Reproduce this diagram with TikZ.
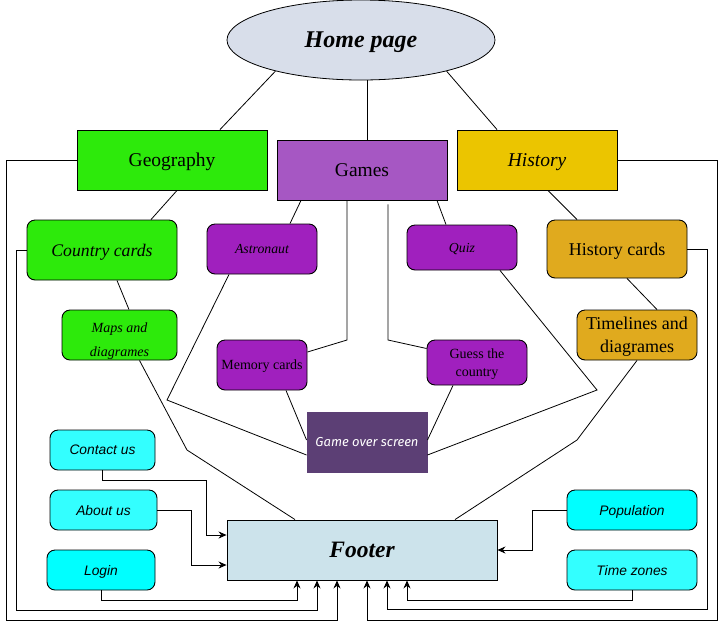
\documentclass[tikz,border=0pt]{standalone}
\usepackage{fontspec}
\setmainfont{Liberation Serif}
\setsansfont{Liberation Sans}
\newfontfamily\goverfont{Fira Sans}
\usetikzlibrary{arrows.meta,shapes.geometric}
\definecolor{homec}{HTML}{D8DEEA}
\definecolor{greenc}{HTML}{2DEA0B}
\definecolor{gamesc}{HTML}{A657C3}
\definecolor{histc}{HTML}{EBC500}
\definecolor{purpc}{HTML}{A020BE}
\definecolor{goldc}{HTML}{E0AA1E}
\definecolor{goverc}{HTML}{5C3F75}
\definecolor{cyanl}{HTML}{33FFFF}
\definecolor{cyanf}{HTML}{00FFFF}
\definecolor{footc}{HTML}{CCE3EB}
\begin{document}
\begin{tikzpicture}[x=1pt,y=-1pt,
  box/.style={draw=black,line width=0.9pt,inner sep=2pt,align=center},
  rbox/.style={box,rounded corners=8pt},
  link/.style={draw=black,line width=0.8pt},
  arr/.style={link,-{Stealth[length=8pt,width=7pt]}}
]
\useasboundingbox (0,0) rectangle (727,630);

% nodes
\node[draw=black,line width=0.8pt,ellipse,fill=homec,minimum width=268pt,minimum height=80pt,inner sep=0pt,text depth=0pt,
      font=\fontsize{24}{28}\selectfont\bfseries\itshape] (home) at (361,40) {Home page};
\node[box,fill=greenc,minimum width=190pt,minimum height=60pt,text depth=0pt,font=\fontsize{19.5}{22}\selectfont] (geo) at (172,160) {Geography};
\node[box,fill=gamesc,minimum width=170pt,minimum height=60pt,text depth=0pt,font=\fontsize{19.5}{22}\selectfont] (games) at (362,170) {Games};
\node[box,fill=histc,minimum width=160pt,minimum height=60pt,text depth=0pt,font=\fontsize{19.5}{22}\selectfont\itshape] (hist) at (537,160) {History};

\node[rbox,fill=greenc,minimum width=150pt,minimum height=60pt,text depth=0pt,font=\fontsize{17.7}{20}\selectfont\itshape] (ccards) at (102,250) {Country cards};
\node[rbox,fill=purpc,minimum width=110pt,minimum height=50pt,text depth=0pt,font=\fontsize{13.8}{16}\selectfont\itshape] (astro) at (262,249) {Astronaut};
\node[rbox,fill=purpc,minimum width=110pt,minimum height=45pt,text depth=0pt,font=\fontsize{13.8}{16}\selectfont\itshape] (quiz) at (462,247.5) {Quiz};
\node[rbox,fill=goldc,minimum width=140pt,minimum height=58pt,text depth=0pt,font=\fontsize{18}{20}\selectfont] (hcards) at (617,249) {History cards};

\node[rbox,fill=greenc,minimum width=115pt,minimum height=50pt,text depth=0pt,font=\fontsize{14}{24}\selectfont\itshape] (maps) at (119.5,335) {\rule{0pt}{0pt}\\[-6pt]Maps and\\diagrames};
\node[rbox,fill=purpc,minimum width=90pt,minimum height=50pt,inner sep=1pt,text depth=0pt,font=\fontsize{14}{17}\selectfont] (memory) at (262,365) {Memory cards};
\node[rbox,fill=purpc,minimum width=100pt,minimum height=45pt,text depth=0pt,font=\fontsize{14}{18}\selectfont] (guess) at (477,362.5) {Guess the\\country};
\node[rbox,fill=goldc,minimum width=120pt,minimum height=50pt,text depth=0pt,font=\fontsize{18}{23}\selectfont] (timelines) at (637,335) {Timelines and\\diagrames};

\node[box,draw=goverc,fill=goverc,text=white,minimum width=120pt,minimum height=60pt,text depth=0pt,font=\goverfont\fontsize{13}{16}\selectfont\itshape] (gameover) at (367,442) {Game over screen};

\node[rbox,fill=cyanl,minimum width=105pt,minimum height=40pt,text depth=0pt,font=\sffamily\fontsize{13.8}{16}\selectfont\itshape] (contact) at (102.5,450) {Contact us};
\node[rbox,fill=cyanl,minimum width=107pt,minimum height=40pt,text depth=0pt,font=\sffamily\fontsize{13.8}{16}\selectfont\itshape] (about) at (103.5,510) {About us};
\node[rbox,fill=cyanf,minimum width=108pt,minimum height=40pt,text depth=0pt,font=\sffamily\fontsize{13.8}{16}\selectfont\itshape] (login) at (101,570) {Login};

\node[box,fill=footc,minimum width=270pt,minimum height=60pt,text depth=0pt,font=\fontsize{23.5}{26}\selectfont\bfseries\itshape] (footer) at (362,550) {Footer};

\node[rbox,fill=cyanf,minimum width=130pt,minimum height=40pt,text depth=0pt,font=\sffamily\fontsize{13.8}{16}\selectfont\itshape] (pop) at (632,510) {Population};
\node[rbox,fill=cyanl,minimum width=130pt,minimum height=40pt,text depth=0pt,font=\sffamily\fontsize{13.8}{16}\selectfont\itshape] (tz) at (632,570) {Time zones};

% tree links
\draw[link] (home.200) -- ([xshift=48pt]geo.north);
\draw[link] ([xshift=6pt]home.south) -- ([xshift=5pt]games.north);
\draw[link] (home.-20) -- ([xshift=-40pt]hist.north);
\draw[link] ([xshift=5pt]geo.south) -- ([xshift=49pt]ccards.north);
\draw[link] ([xshift=-61pt]games.south) -- ([xshift=28pt]astro.north);
\draw[link] ([xshift=75pt]games.south) -- ([xshift=-16pt]quiz.north);
\draw[link] ([xshift=11pt]hist.south) -- ([xshift=-40pt]hcards.north);
\draw[link] ([xshift=15pt]ccards.south) -- ([xshift=9.5pt]maps.north);
\draw[link] ([xshift=10pt]hcards.south) -- ([xshift=20pt]timelines.north);

% game links
\draw[link] ([xshift=-33pt]astro.south) -- (167,400) -- ([yshift=-13pt]gameover.west);
\draw[link] ([xshift=-15pt]games.south) -- (347,340) -- ([yshift=13pt]memory.east);
\draw[link] ([xshift=26pt,yshift=-4pt]games.south) -- (388,340) -- ([yshift=14pt]guess.west);
\draw[link] ([xshift=38pt]quiz.south) -- (597,390) -- ([yshift=-13pt]gameover.east);
\draw[link] ([xshift=24pt]memory.south) -- ([yshift=2pt]gameover.west);
\draw[link] ([xshift=-24pt]guess.south) -- ([yshift=2pt]gameover.east);

% to footer
\draw[link] ([xshift=20pt]maps.south) -- (187,450) -- ([xshift=-67pt]footer.north);
\draw[link] (timelines.south) -- (577,440) -- ([xshift=93pt]footer.north);

\draw[arr] (contact.south) -- ++(0,10) -| ([xshift=-20pt,yshift=15pt]footer.west) -- ([yshift=15pt]footer.west);
\draw[arr] (about.east) -| ([xshift=-35pt,yshift=-15pt]footer.west) -- ([yshift=-15pt]footer.west);
\draw[arr] (login.south) -- ++(0,10) -| ([xshift=-65pt]footer.south);
\draw[arr] (ccards.west) -- ++(-10,0) -- ++(0,360) -| ([xshift=-45pt]footer.south);
\draw[arr] (geo.west) -- ++(-70,0) -- ++(0,460) -| ([xshift=-25pt]footer.south);
\draw[arr] (pop.west) -- ++(-34,0) |- (footer.east);
\draw[arr] (tz.south) -- ++(0,10) -| ([xshift=45pt]footer.south);
\draw[arr] (hcards.east) -- ++(20,0) -- ++(0,360) -| ([xshift=25pt]footer.south);
\draw[arr] (hist.east) -- ++(100,0) -- ++(0,460) -| ([xshift=5pt]footer.south);
\end{tikzpicture}
\end{document}
